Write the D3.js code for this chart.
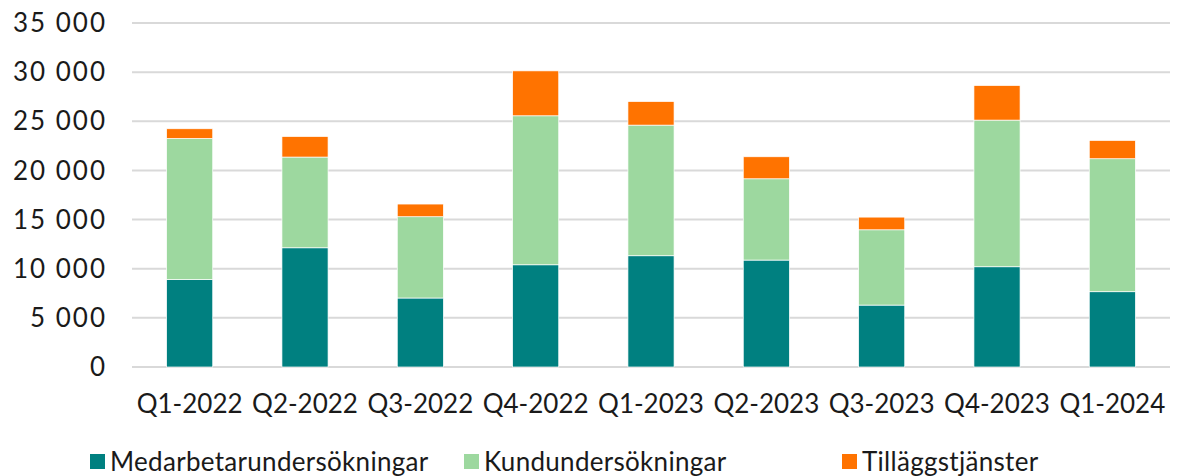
<!DOCTYPE html>
<meta charset="utf-8">
<style>
  body { margin: 0; background: #fff; }
  svg { font-family: Lato, sans-serif; }
</style>
<svg width="1178" height="476"></svg>
<script src="https://cdn.jsdelivr.net/npm/d3@7"></script>
<script>
var quarters = ["Q1-2022", "Q2-2022", "Q3-2022", "Q4-2022", "Q1-2023", "Q2-2023", "Q3-2023", "Q4-2023", "Q1-2024"];
var medarbetar = [8900, 12130, 7020, 10400, 11320, 10880, 6300, 10200, 7660];
var kund = [14350, 9230, 8270, 15160, 13290, 8270, 7660, 14920, 13530];
var tillagg = [990, 2090, 1290, 4570, 2400, 2240, 1290, 3520, 1860];
var seriesNames = ["Medarbetarundersökningar", "Kundundersökningar", "Tilläggstjänster"];
var yTicks = [0, 5000, 10000, 15000, 20000, 25000, 30000, 35000];

var colors = ["#008080", "#9dd89f", "#ff7300"];

var svg = d3.select("svg"),
    margin = {top: 23, right: 8, bottom: 109, left: 132},
    width = +svg.attr("width") - margin.left - margin.right,
    height = +svg.attr("height") - margin.top - margin.bottom;

var rows = quarters.map(function(q, i) {
  return {q: q, s0: medarbetar[i], s1: kund[i], s2: tillagg[i]};
});
var stack = d3.stack().keys(["s0", "s1", "s2"])(rows);

var x = d3.scaleBand().domain(quarters).range([0, width]).paddingInner(0.6).paddingOuter(0.3);
var y = d3.scaleLinear().domain([0, 35000]).range([height, 0]);

var fmt = d3.formatLocale({decimal: ",", thousands: " ", grouping: [3], currency: ["", " kr"]}).format(",d");

var g = svg.append("g").attr("transform", "translate(" + margin.left + "," + margin.top + ")");

// gridlines
g.selectAll(".grid").data(yTicks).enter().append("line")
    .attr("x1", 0).attr("x2", width)
    .attr("y1", function(d) { return y(d); }).attr("y2", function(d) { return y(d); })
    .attr("stroke", "#d9d9d9").attr("stroke-width", 2);

// y labels
g.selectAll(".ylab").data(yTicks).enter().append("text")
    .attr("x", -25).attr("y", function(d) { return y(d); })
    .attr("dy", "0.35em").attr("text-anchor", "end")
    .attr("font-size", 26).attr("letter-spacing", 2).attr("fill", "#1a1a1a")
    .text(function(d) { return fmt(d); });

// bars
g.selectAll(".layer").data(stack).enter().append("g")
    .attr("fill", function(d, i) { return colors[i]; })
  .selectAll("rect").data(function(d) { return d; }).enter().append("rect")
    .attr("x", function(d) { return x(d.data.q); })
    .attr("width", x.bandwidth())
    .attr("y", function(d) { return y(d[1]); })
    .attr("height", function(d) { return y(d[0]) - y(d[1]); })
    .attr("stroke", "#fff").attr("stroke-width", 0.7);

// x labels
g.selectAll(".xlab").data(quarters).enter().append("text")
    .attr("x", function(d) { return x(d) + x.bandwidth() / 2; })
    .attr("y", height + 46)
    .attr("text-anchor", "middle")
    .attr("font-size", 26).attr("fill", "#1a1a1a")
    .text(function(d) { return d; });

// legend
var legX = [90, 464, 842];
var leg = svg.selectAll(".leg").data(seriesNames).enter().append("g")
    .attr("transform", function(d, i) { return "translate(" + legX[i] + ",454)"; });
leg.append("rect").attr("width", 15).attr("height", 15)
    .attr("fill", function(d, i) { return colors[i]; });
leg.append("text").attr("x", 20).attr("y", 8).attr("dy", "0.35em")
    .attr("font-size", 26).attr("letter-spacing", 0.3).attr("fill", "#1a1a1a")
    .text(function(d) { return d; });
</script>
